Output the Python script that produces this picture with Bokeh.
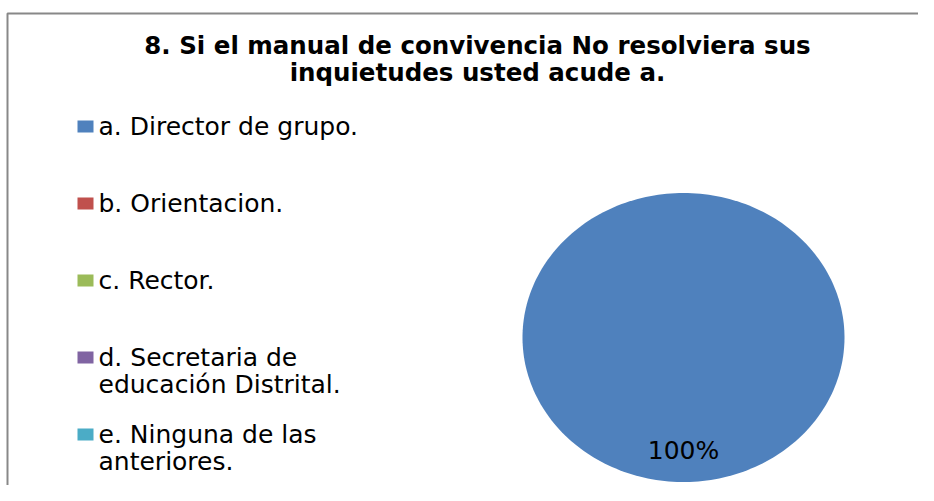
import numpy as np
from bokeh.plotting import figure
from bokeh.models import Range1d
from bokeh.core.properties import value
from bokeh.embed import file_html
from bokeh.resources import INLINE

# ---- data ----
title_lines = ["8. Si el manual de convivencia No resolviera sus",
               "inquietudes usted acude a."]
categories = ["a. Director de grupo.",
              "b. Orientacion.",
              "c. Rector.",
              "d. Secretaria de\neducación Distrital.",
              "e. Ninguna de las\nanteriores."]
values = [100, 0, 0, 0, 0]
colors = ["#4F81BD", "#C0504D", "#9BBB59", "#8064A2", "#4BACC6"]

W, H = 918, 485
FONT = "DejaVu Sans"

p = figure(width=W, height=H, output_backend="svg", toolbar_location=None,
           x_range=Range1d(0, W), y_range=Range1d(H, 0),
           min_border=0, outline_line_color=None)
p.axis.visible = False
p.xgrid.visible = False
p.ygrid.visible = False
p.background_fill_color = "white"

# chart-area border (left and top edges visible)
p.line([7, 7, W], [H, 13, 13], line_color="#888888", line_width=2)

# title
for i, t in enumerate(title_lines):
    p.text(x=[477], y=[44.5 + i * 27], text=[t], text_font=value(FONT),
           text_font_style="bold", text_font_size="24.5px", text_align="center",
           text_baseline="middle", text_color="black")

# pie (elliptical, starting at 12 o'clock, clockwise)
cx, cy, rx, ry = 683, 337, 161, 144.5
total = float(sum(values))
start = 0.0
xs, ys, fc, lab_x, lab_y, lab_t = [], [], [], [], [], []
for v, c in zip(values, colors):
    frac = v / total
    if frac > 0:
        th = np.linspace(start, start + frac * 2 * np.pi, 240)
        px = cx + rx * np.sin(th)
        py = cy - ry * np.cos(th)
        if frac < 1:
            px = np.concatenate([[cx], px])
            py = np.concatenate([[cy], py])
        xs.append(list(px)); ys.append(list(py)); fc.append(c)
        mid = start + frac * np.pi
        lab_x.append(cx + 0.78 * rx * np.sin(mid))
        lab_y.append(cy - 0.78 * ry * np.cos(mid))
        lab_t.append(f"{v / total * 100:.0f}%")
    start += frac * 2 * np.pi
p.patches(xs=xs, ys=ys, fill_color=fc, line_color=None)
p.text(x=lab_x, y=lab_y, text=lab_t, text_font=value(FONT), text_font_size="25px",
       text_align="center", text_baseline="middle", text_color="black")

# legend
base0, step, lh = 126, 77.0, 26.5
for i, (cat, c) in enumerate(zip(categories, colors)):
    b = base0 + i * step
    p.rect(x=[85], y=[b], width=16, height=12, fill_color=c, line_color=None)
    for j, ln in enumerate(cat.split("\n")):
        p.text(x=[98], y=[b + j * lh], text=[ln], text_font=value(FONT),
               text_font_size="25px", text_align="left",
               text_baseline="middle", text_color="black")

open("out.html", "w").write(file_html(p, INLINE))
